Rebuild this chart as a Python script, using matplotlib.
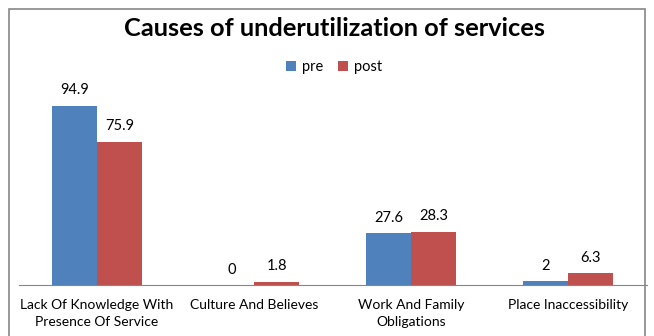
import numpy as np
import matplotlib.pyplot as plt
from matplotlib.patches import Rectangle

categories = ["Lack Of Knowledge With\nPresence Of Service", "Culture And Believes",
              "Work And Family\nObligations", "Place Inaccessibility"]
pre = [94.9, 0, 27.6, 2]
post = [75.9, 1.8, 28.3, 6.3]

plt.rcParams['font.family'] = ['Lato', 'DejaVu Sans']

fig = plt.figure(figsize=(6.54, 3.36), dpi=100)
ax = fig.add_axes([18.5 / 654, 1 - 285 / 336, 628 / 654, 189 / 336])

x = np.arange(len(categories))
w = 0.287
b1 = ax.bar(x - w / 2, pre, w, color="#4F81BD", label="pre")
b2 = ax.bar(x + w / 2, post, w, color="#C0504D", label="post")

for bars, vals in ((b1, pre), (b2, post)):
    for r, v in zip(bars, vals):
        ax.annotate(f"{v:g}", (r.get_x() + r.get_width() / 2, r.get_height()),
                    xytext=(0, 6), textcoords="offset points",
                    ha="center", va="bottom", fontsize=10.5)

ax.set_xlim(-0.5, len(categories) - 0.5)
ax.set_ylim(0, 100)
ax.set_xticks(x)
ax.set_xticklabels(categories, fontsize=10, linespacing=1.55)
ax.tick_params(axis="x", length=0, pad=10)
ax.set_yticks([])
for s in ("left", "right", "top"):
    ax.spines[s].set_visible(False)
ax.spines["bottom"].set_color("#868686")

fig.text(334 / 654, 1 - 28 / 336, "Causes of underutilization of services",
         ha="center", va="center", fontsize=18.3, fontweight="bold")
fig.legend(loc="center", bbox_to_anchor=(334 / 654, 1 - 67 / 336), ncol=2, frameon=False,
           fontsize=10.5, handlelength=0.7, handleheight=0.7, handletextpad=0.4,
           columnspacing=1.0)

fig.patches.append(Rectangle((9 / 654, -0.1), 636 / 654, 1.1 - 9 / 336,
                             transform=fig.transFigure, fill=False,
                             edgecolor="#868686", linewidth=1.2))

fig.savefig("out.png", dpi=100)
